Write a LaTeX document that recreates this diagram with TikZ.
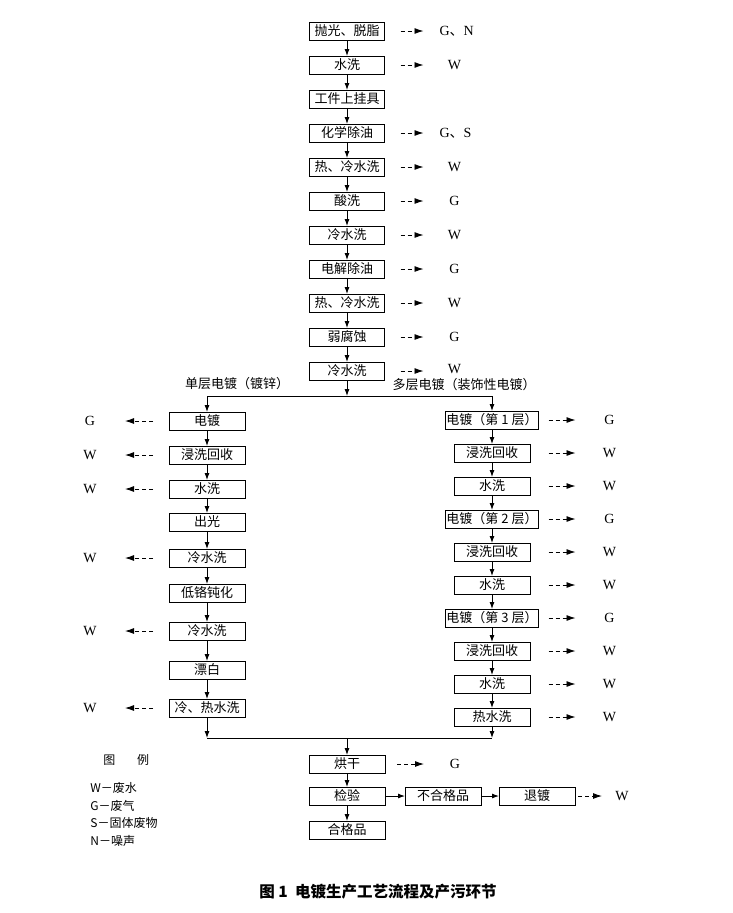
\documentclass[tikz,border=0pt]{standalone}
\usepackage{fontspec}
\setmainfont{Liberation Serif}
\newfontfamily\cjk{Noto Sans CJK SC}
\usetikzlibrary{positioning,arrows.meta}

\begin{document}
\begin{tikzpicture}[
  x=1pt, y=1pt,
  line width=0.9pt,
  >={Latex[length=7pt,width=5pt]},
  node distance=16pt,
  box/.style={draw, minimum width=76pt, minimum height=18pt, inner xsep=1pt,
    inner ysep=0pt, outer sep=0pt, text height=10.5pt, text depth=2.5pt,
    font=\cjk\fontsize{13}{15}\selectfont},
  flow/.style={->},
  waste/.style={->, dash pattern=on 4pt off 3pt,
    >={Latex[length=9pt,width=6pt]}, shorten <=16pt, shorten >=16pt},
  tag/.style={text width=30pt, align=center, inner sep=0pt, outer sep=0pt,
    text height=9.5pt, text depth=0pt, font=\fontsize{14}{16}\selectfont},
  note/.style={inner sep=0pt, text height=10.5pt, text depth=2.5pt,
    font=\cjk\fontsize{13}{15}\selectfont},
  legend/.style={anchor=west, inner sep=0pt, font=\cjk\fontsize{12}{14}\selectfont},
]
  \useasboundingbox (0,0) rectangle (732,-913);

  % pretreatment
  \node[box, minimum width=75pt] (polish) at (347,-31) {抛光、脱脂};
  \node[box, minimum width=75pt, below=of polish]   (rinse1)   {水洗};
  \node[box, minimum width=75pt, below=of rinse1]   (hang)     {工件上挂具};
  \node[box, minimum width=75pt, below=of hang]     (degrease) {化学除油};
  \node[box, minimum width=75pt, below=of degrease] (hcrinse1) {热、冷水洗};
  \node[box, minimum width=75pt, below=of hcrinse1] (pickle)   {酸洗};
  \node[box, minimum width=75pt, below=of pickle]   (crinse1)  {冷水洗};
  \node[box, minimum width=75pt, below=of crinse1]  (electro)  {电解除油};
  \node[box, minimum width=75pt, below=of electro]  (hcrinse2) {热、冷水洗};
  \node[box, minimum width=75pt, below=of hcrinse2] (etch)     {弱腐蚀};
  \node[box, minimum width=75pt, below=of etch]     (crinse2)  {冷水洗};

  \node[tag, right=55pt of polish] (w-polish) {G{\cjk 、}N};
  \node[tag] (w-rinse1)   at (rinse1 -| w-polish)   {W};
  \node[tag] (w-degrease) at (degrease -| w-polish) {G{\cjk 、}S};
  \node[tag] (w-hcrinse1) at (hcrinse1 -| w-polish) {W};
  \node[tag] (w-pickle)   at (pickle -| w-polish)   {G};
  \node[tag] (w-crinse1)  at (crinse1 -| w-polish)  {W};
  \node[tag] (w-electro)  at (electro -| w-polish)  {G};
  \node[tag] (w-hcrinse2) at (hcrinse2 -| w-polish) {W};
  \node[tag] (w-etch)     at (etch -| w-polish)     {G};
  \node[tag, yshift=2pt] (w-crinse2) at (crinse2 -| w-polish) {W};

  \foreach \a/\b in {polish/rinse1, rinse1/hang, hang/degrease,
      degrease/hcrinse1, hcrinse1/pickle, pickle/crinse1, crinse1/electro,
      electro/hcrinse2, hcrinse2/etch, etch/crinse2}
    \draw[flow] (\a) -- (\b);
  \foreach \b in {polish, rinse1, degrease, hcrinse1, pickle, crinse1,
      electro, hcrinse2, etch}
    \draw[waste] (\b) -- (w-\b);
  \draw[waste] (crinse2) -- (crinse2 -| w-crinse2.west);

  % split into the two plating lines
  \coordinate (split) at (347,-396);
  \node[note] (single) at (237,-384) {单层电镀（镀锌）};
  \node[note] (multi)  at (464,-385) {多层电镀（装饰性电镀）};

  % single layer (zinc)
  \node[box] (zn) at (207,-421) {电镀};
  \node[box, below=16pt of zn]      (zndip)   {浸洗回收};
  \node[box, below=16pt of zndip]   (znrinse) {水洗};
  \node[box, below=15pt of znrinse] (bright)  {出光};
  \node[box, below=18pt of bright]  (zncool1) {冷水洗};
  \node[box, below=17pt of zncool1] (passiv)  {低铬钝化};
  \node[box, below=20pt of passiv]  (zncool2) {冷水洗};
  \node[box, below=21pt of zncool2] (bleach)  {漂白};
  \node[box, below=20pt of bleach]  (znhot)   {冷、热水洗};

  \node[tag, left=64pt of zn] (w-zn) {G};
  \node[tag] (w-zndip)   at (zndip -| w-zn)   {W};
  \node[tag] (w-znrinse) at (znrinse -| w-zn) {W};
  \node[tag] (w-zncool1) at (zncool1 -| w-zn) {W};
  \node[tag] (w-zncool2) at (zncool2 -| w-zn) {W};
  \node[tag] (w-znhot)   at (znhot -| w-zn)   {W};

  % multi layer (decorative)
  \node[box] (l1) at (492,-420) {电镀（第 1 层）};
  \node[box, below=15pt of l1]      (l1dip)   {浸洗回收};
  \node[box, below=15pt of l1dip]   (l1rinse) {水洗};
  \node[box, below=15pt of l1rinse] (l2)      {电镀（第 2 层）};
  \node[box, below=15pt of l2]      (l2dip)   {浸洗回收};
  \node[box, below=15pt of l2dip]   (l2rinse) {水洗};
  \node[box, below=15pt of l2rinse] (l3)      {电镀（第 3 层）};
  \node[box, below=15pt of l3]      (l3dip)   {浸洗回收};
  \node[box, below=15pt of l3dip]   (l3rinse) {水洗};
  \node[box, below=15pt of l3rinse] (hot)     {热水洗};

  \node[tag, right=56pt of l1] (w-l1) {G};
  \node[tag] (w-l1dip)   at (l1dip -| w-l1)   {W};
  \node[tag] (w-l1rinse) at (l1rinse -| w-l1) {W};
  \node[tag] (w-l2)      at (l2 -| w-l1)      {G};
  \node[tag] (w-l2dip)   at (l2dip -| w-l1)   {W};
  \node[tag] (w-l2rinse) at (l2rinse -| w-l1) {W};
  \node[tag] (w-l3)      at (l3 -| w-l1)      {G};
  \node[tag] (w-l3dip)   at (l3dip -| w-l1)   {W};
  \node[tag] (w-l3rinse) at (l3rinse -| w-l1) {W};
  \node[tag] (w-hot)     at (hot -| w-l1)     {W};

  \draw[flow] (crinse2) -- (split);
  \draw (split -| zn) -- (split -| l1);
  \draw[flow] (split -| zn) -- (zn);
  \draw[flow] (split -| l1) -- (l1);

  \foreach \a/\b in {zn/zndip, zndip/znrinse, znrinse/bright, bright/zncool1,
      zncool1/passiv, passiv/zncool2, zncool2/bleach, bleach/znhot,
      l1/l1dip, l1dip/l1rinse, l1rinse/l2, l2/l2dip, l2dip/l2rinse,
      l2rinse/l3, l3/l3dip, l3dip/l3rinse, l3rinse/hot}
    \draw[flow] (\a) -- (\b);
  \foreach \b in {zn, zndip, znrinse, zncool1, zncool2, znhot}
    \draw[waste, shorten >=20pt] (\b) -- (w-\b);
  \foreach \b in {l1, l1dip, l1rinse, l2, l2dip, l2rinse, l3, l3dip, l3rinse, hot}
    \draw[waste, shorten <=10pt, shorten >=19pt] (\b.east -| l1.east) -- (w-\b);

  % merge and finishing
  \coordinate (merge) at (347,-738);
  \draw[flow] (znhot) -- (znhot |- merge);
  \draw[flow] (hot) -- (hot |- merge);
  \draw (znhot |- merge) -- (hot |- merge);

  \node[box] (dry) at (347,-764) {烘干};
  \node[box, below=14pt of dry]    (check)  {检验};
  \node[box, below=16pt of check]  (ok)     {合格品};
  \node[box, right=20pt of check]  (reject) {不合格品};
  \node[box, right=18pt of reject] (strip)  {退镀};
  \node[tag, right=55pt of dry]    (w-dry)   {G};
  \node[tag, right=32pt of strip]  (w-strip) {W};

  \draw[flow] (merge) -- (dry);
  \draw[flow] (dry) -- (check);
  \draw[flow] (check) -- (ok);
  \draw[flow] (check) -- (reject);
  \draw[flow] (reject) -- (strip);
  \draw[waste, shorten <=12pt] (dry) -- (w-dry);
  \draw[waste, shorten <=3pt, shorten >=5pt] (strip) -- (w-strip);

  % legend
  \node[legend] (key) at (103,-760) {图\hspace{1.8em}例};
  \node[legend] (key-w) at (90,-788) {W－废水};
  \node[legend] (key-g) at (90,-806) {G－废气};
  \node[legend] (key-s) at (90,-823) {S－固体废物};
  \node[legend] (key-n) at (90,-841) {N－噪声};

  \node[font=\cjk\bfseries\fontsize{15.5}{18}\selectfont] (caption) at (378,-892)
    {图 1\ \ 电镀生产工艺流程及产污环节};
\end{tikzpicture}
\end{document}
